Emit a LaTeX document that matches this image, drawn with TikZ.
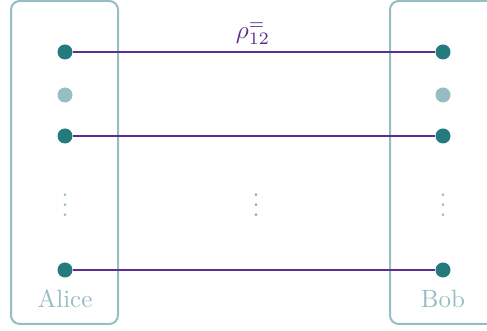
\documentclass[tikz,border=0pt]{standalone}
\usepackage{amsmath, amssymb}
\usepackage{tikz}
\usetikzlibrary{calc, backgrounds}

\definecolor{qteal}{HTML}{247A7C}
\definecolor{qlight}{HTML}{95BDC2}
\definecolor{qpurple}{HTML}{5B2D8C}
\definecolor{qlilac}{HTML}{A692C9}

\begin{document}
\begin{tikzpicture}[x=0.4pt, y=-0.4pt,
    partybox/.style={draw=qlight, line width=0.8pt, rounded corners=3.5pt},
    qubit/.style={circle, fill=qteal, inner sep=0pt, minimum size=6pt},
    spare/.style={circle, fill=qlight, inner sep=0pt, minimum size=6pt},
    bond/.style={draw=qpurple, line width=0.8pt}]
    % 页面大小
    \useasboundingbox (0,0) rectangle (487,331);

    % --- 两方的方框 (Bob 的方框在右边被截断) ---
    \begin{scope}
        \clip (0,0) rectangle (487,331);
        \draw[partybox] (11,1) rectangle (118,324);
        \draw[partybox] (390,1) rectangle (510,324);
    \end{scope}

    % --- 量子比特 ---
    \foreach \n/\y in {1/52, 2/136, 3/270} {
        \node[qubit] (a\n) at (65,\y) {};
        \node[qubit] (b\n) at (443,\y) {};
    }
    \node[spare] (a0) at (65,95) {};
    \node[spare] (b0) at (443,95) {};

    % --- 纠缠连线 ---
    \foreach \n in {1,2,3} {
        \draw[bond] (a\n) -- (b\n);
    }
    \node[text=qpurple, inner sep=1pt] (rho) at (253,34) {$\rho^{=}_{12}$};

    % 省略号
    \node[text=qlight] (adots) at (65,198) {$\vdots$};
    \node[text=qlilac] (mdots) at (256,198) {$\vdots$};
    \node[text=qlight] (bdots) at (443,198) {$\vdots$};

    % 名字
    \node[text=qlight] (alice) at (65,299) {Alice};
    \node[text=qlight] (bob) at (443,299) {Bob};
\end{tikzpicture}
\end{document}
